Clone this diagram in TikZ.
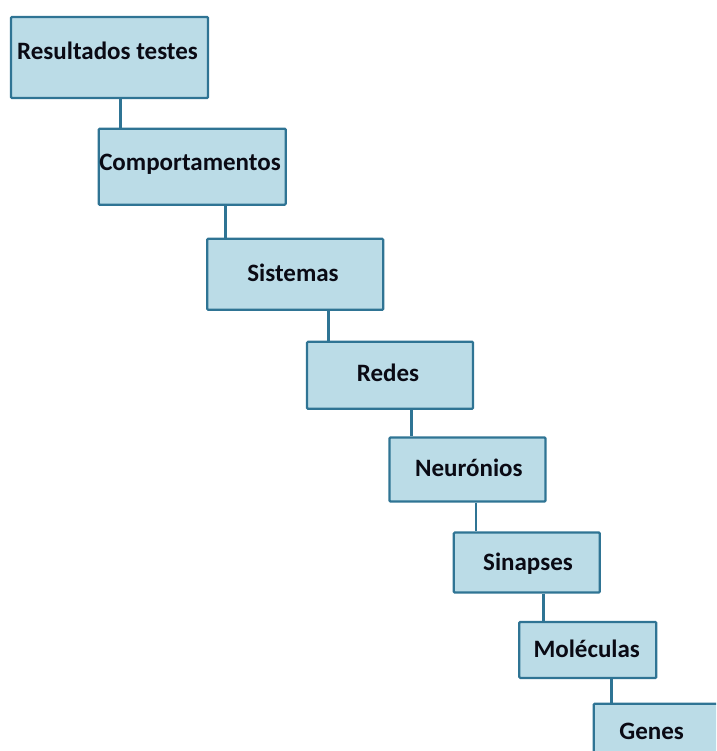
\documentclass[tikz,border=0pt]{standalone}
\usepackage{fontspec}
\setmainfont{Carlito}
\definecolor{boxfill}{HTML}{BBDCE7}
\definecolor{boxline}{HTML}{2F7494}
\definecolor{txt}{HTML}{0A0A14}
\begin{document}
\begin{tikzpicture}[x=1pt,y=-1pt,
  box/.style={draw=boxline,fill=boxfill,line width=2.2pt,rectangle,rounded corners=1pt,inner sep=0pt},
  lbl/.style={anchor=base,inner sep=0pt,text=txt,font=\fontsize{25}{27}\selectfont\bfseries},
  conn/.style={draw=boxline,line width=2.6pt}]
\useasboundingbox (0,0) rectangle (716,751);
\clip (0,0) rectangle (716,751);
\node[box,minimum width=197pt,minimum height=81pt] (b1) at (109.5,57.5) {};
\node[box,minimum width=187pt,minimum height=76pt] (b2) at (192.2,166.7) {};
\node[box,minimum width=176pt,minimum height=71pt] (b3) at (295.2,274.3) {};
\node[box,minimum width=166pt,minimum height=67pt] (b4) at (390,375.3) {};
\node[box,minimum width=156pt,minimum height=64pt] (b5) at (467.5,469.5) {};
\node[box,minimum width=146pt,minimum height=60pt] (b6) at (526.8,562.5) {};
\node[box,minimum width=137pt,minimum height=56pt] (b7) at (587.8,649.9) {};
\node[box,minimum width=128pt,minimum height=54pt] (b8) at (657.7,730.7) {};
\node[lbl] (t1) at (107.5,59.3) {Resultados testes};
\node[lbl] (t2) at (190,170.5) {Comportamentos};
\node[lbl] (t3) at (293,281.7) {Sistemas};
\node[lbl] (t4) at (388,381.7) {Redes};
\node[lbl] (t5) at (468.8,476.7) {Neurónios};
\node[lbl] (t6) at (528,570.5) {Sinapses};
\node[lbl] (t7) at (586.7,657.3) {Moléculas};
\node[lbl] (t8) at (651.7,739.3) {Genes};
\coordinate (k1) at (120.7,0);
\coordinate (k2) at (225.3,0);
\coordinate (k3) at (328.3,0);
\coordinate (k4) at (411.7,0);
\coordinate (k5) at (476,0);
\coordinate (k6) at (543.3,0);
\coordinate (k7) at (611.7,0);
\draw[conn] (b1.south -| k1) -- (b2.north -| k1);
\draw[conn] (b2.south -| k2) -- (b3.north -| k2);
\draw[conn] (b3.south -| k3) -- (b4.north -| k3);
\draw[conn] (b4.south -| k4) -- (b5.north -| k4);
\draw[conn] (b5.south -| k5) -- (b6.north -| k5);
\draw[conn] (b6.south -| k6) -- (b7.north -| k6);
\draw[conn] (b7.south -| k7) -- (b8.north -| k7);
\end{tikzpicture}
\end{document}
